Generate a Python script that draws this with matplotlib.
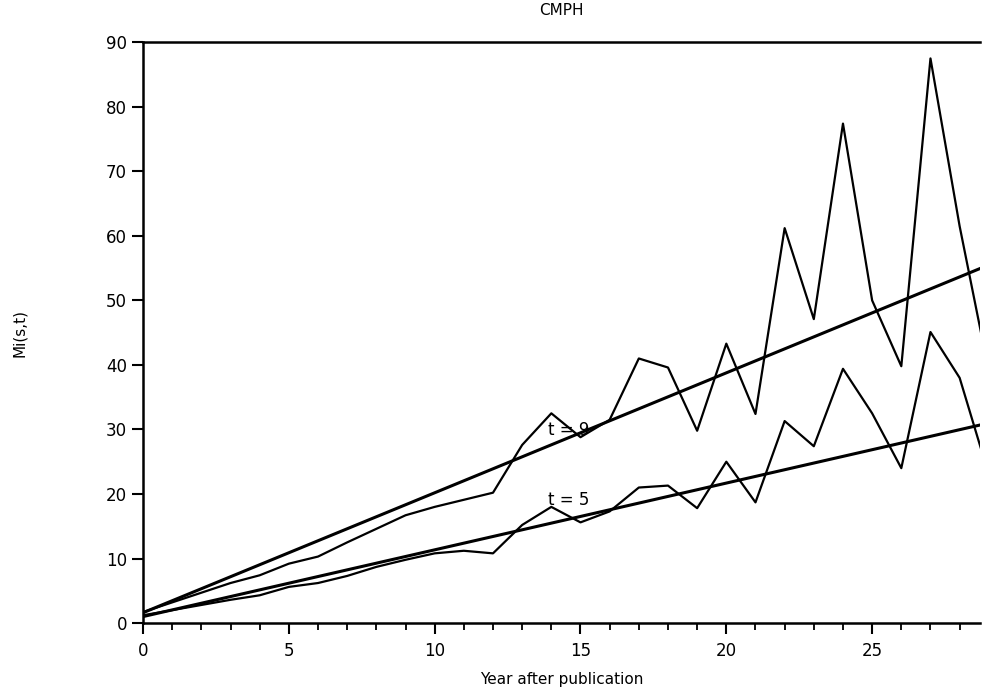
import numpy as np
import matplotlib.pyplot as plt
from matplotlib.ticker import MultipleLocator

# observed values, t = 9 and t = 5
years = [0, 1, 2, 3, 4, 5, 6, 7, 8, 9, 10, 11, 12, 13, 14, 15, 16, 17, 18, 19,
         20, 21, 22, 23, 24, 25, 26, 27, 28, 29]
obs_t9 = [1.7, 3.2, 4.7, 6.2, 7.4, 9.2, 10.3, 12.5, 14.6, 16.7, 18.0, 19.1, 20.2, 27.6, 32.5,
          28.8, 31.5, 41.0, 39.6, 29.8, 43.3, 32.4, 61.2, 47.1, 77.4, 50.0, 39.8, 87.5, 61.5, 39.0]
obs_t5 = [1.2, 2.0, 2.8, 3.6, 4.3, 5.6, 6.2, 7.3, 8.7, 9.8, 10.8, 11.2, 10.8, 15.2, 18.0,
          15.6, 17.3, 21.0, 21.3, 17.8, 25.0, 18.7, 31.3, 27.4, 39.4, 32.5, 24.0, 45.1, 38.0, 23.0]

# fitted lines
fit_x = [0, 29]
fit_t9 = [1.6, 55.5]
fit_t5 = [1.0, 31.0]

plt.rcParams["font.family"] = ["DejaVu Sans"]

fig = plt.figure(figsize=(9.83, 6.98), dpi=100)
ax = fig.add_axes([0.1455, 0.1074, 0.8515, 0.832])

ax.plot(years, obs_t9, color="black", linewidth=1.6)
ax.plot(years, obs_t5, color="black", linewidth=1.6)
ax.plot(fit_x, fit_t9, color="black", linewidth=2.2)
ax.plot(fit_x, fit_t5, color="black", linewidth=2.2)

ax.text(13.9, 29.9, "t = 9", fontsize=12, va="center", ha="left")
ax.text(13.9, 19.0, "t = 5", fontsize=12, va="center", ha="left")

ax.set_xlim(0, 28.7)
ax.set_ylim(0, 90)
ax.xaxis.set_major_locator(MultipleLocator(5))
ax.xaxis.set_minor_locator(MultipleLocator(1))
ax.yaxis.set_major_locator(MultipleLocator(10))

ax.spines["right"].set_visible(False)
for s in ["top", "left", "bottom"]:
    ax.spines[s].set_linewidth(1.8)

ax.tick_params(axis="both", which="major", length=8, width=1.5, labelsize=12, direction="out")
ax.tick_params(axis="x", which="minor", length=5, width=1.3, direction="out")
ax.tick_params(axis="x", pad=6)

ax.set_title("CMPH", fontsize=11, pad=20)
ax.set_xlabel("Year after publication", fontsize=11, labelpad=8)
ax.set_ylabel("Mi(s,t)", fontsize=11, labelpad=57)

fig.savefig("out.png", dpi=100)
